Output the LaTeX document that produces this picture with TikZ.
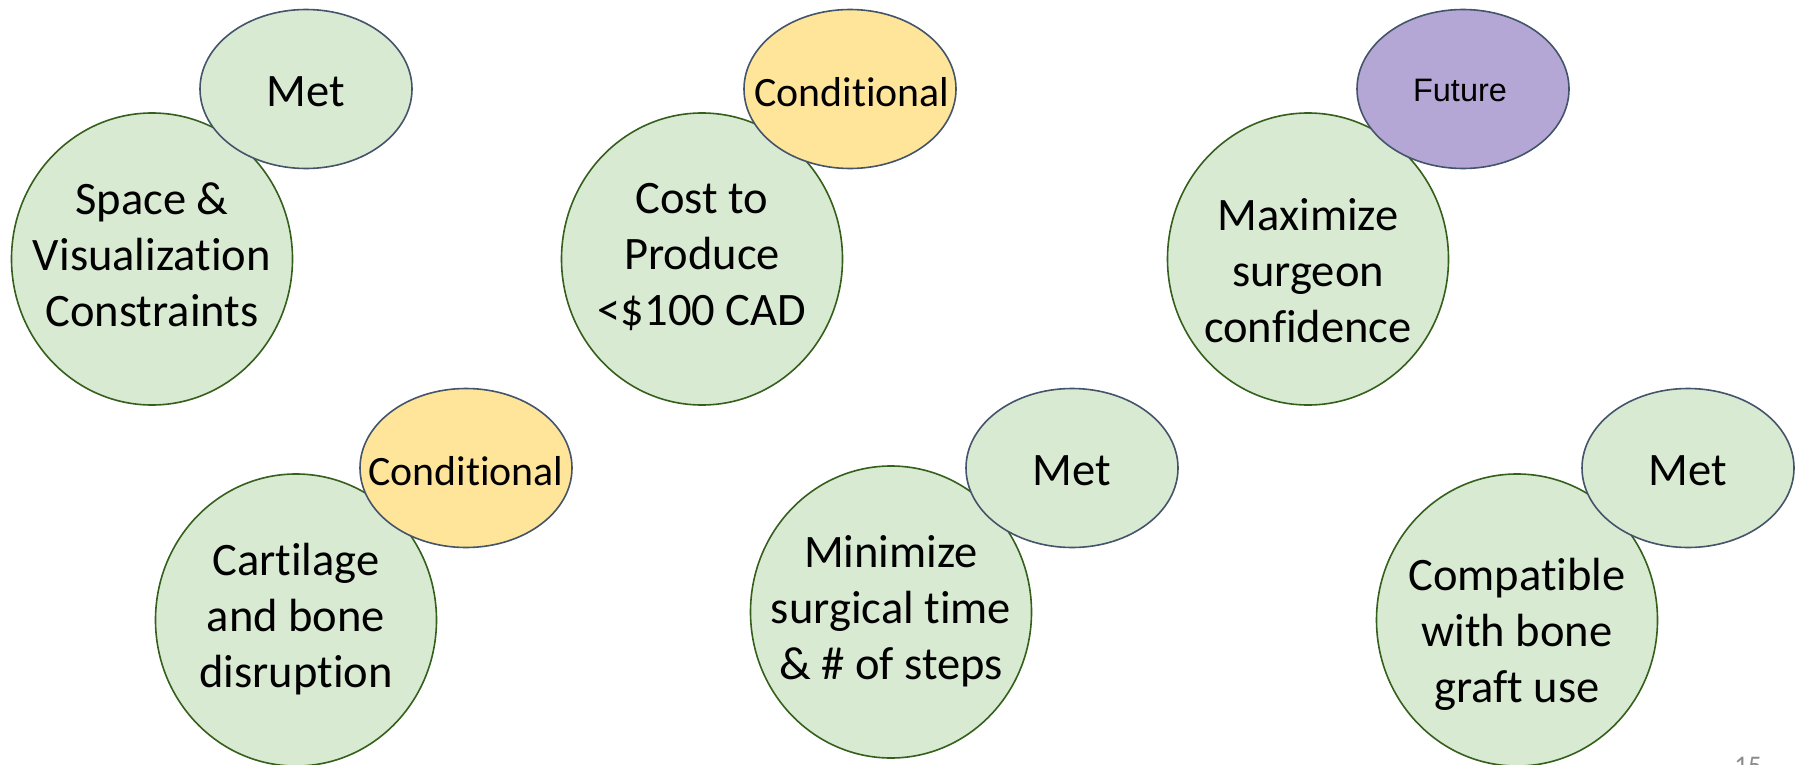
\documentclass[tikz,border=0pt]{standalone}
\usepackage{fontspec}
\setmainfont{Carlito}[RawFeature={-liga,-clig,-dlig}]
\newfontfamily\arialfont{Liberation Sans}
\usetikzlibrary{shapes.geometric}
\definecolor{goalfill}{HTML}{D9EAD3}
\definecolor{goaledge}{HTML}{34601C}
\definecolor{tagedge}{HTML}{44546A}
\definecolor{condfill}{HTML}{FFE599}
\definecolor{futfill}{HTML}{B4A7D6}
\definecolor{pagegray}{HTML}{8C8C8C}
\begin{document}
\begin{tikzpicture}[x=1bp,y=-1bp,
  goal/.style={ellipse, draw=goaledge, fill=goalfill, line width=1.6bp,
    minimum width=281bp, minimum height=292bp, inner sep=0pt},
  tag/.style={ellipse, draw=tagedge, line width=1.6bp,
    minimum width=212bp, minimum height=159bp, inner sep=0pt},
  met/.style={tag, fill=goalfill},
  cond/.style={tag, fill=condfill},
  fut/.style={tag, fill=futfill},
  goaltxt/.style={align=center, inner sep=0pt, font=\fontsize{46.7}{56.2}\selectfont},
  tagtxt/.style={inner sep=0pt, font=\fontsize{46.7}{56}\selectfont},
  condtxt/.style={inner sep=0pt, font=\fontsize{42}{50}\selectfont},
  futtxt/.style={inner sep=0pt, font=\arialfont\fontsize{32.6}{40}\selectfont},
  pagenum/.style={inner sep=0pt, anchor=base, text=pagegray, font=\fontsize{27}{32}\selectfont}
]
\path[use as bounding box, fill=white] (0,0) rectangle (1797,765);

% top row
\node[goal] (g1) at (152,259) {};
\node[goaltxt] (g1t) at (152,255) {Space \&\\Visualization\\Constraints};
\node[met] (s1) at (306,89) {};
\node[tagtxt] (s1t) at (306,92) {Met};

\node[goal] (g2) at (702,259) {};
\node[goaltxt] (g2t) at (702,257) {Cost to\\Produce\\<\$100 CAD};
\node[cond] (s2) at (850,89) {};
\node[condtxt] (s2t) at (852,92) {Conditional};

\node[goal] (g3) at (1308,259) {};
\node[goaltxt] (g3t) at (1308,271) {Maximize\\surgeon\\confidence};
\node[fut] (s3) at (1463,89) {};
\node[futtxt] (s3t) at (1460,90) {Future};

% bottom row
\node[goal] (g4) at (296,620) {};
\node[goaltxt] (g4t) at (296,619) {Cartilage\\and bone\\disruption};
\node[cond] (s4) at (466,468) {};
\node[condtxt] (s4t) at (466,471) {Conditional};

\node[goal] (g5) at (891,612) {};
\node[goaltxt] (g5t) at (891,611) {Minimize\\surgical time\\\& \# of steps};
\node[met] (s5) at (1072,468) {};
\node[tagtxt] (s5t) at (1072,471) {Met};

\node[goal] (g6) at (1517,620) {};
\node[goaltxt] (g6t) at (1517,634) {Compatible\\with bone\\graft use};
\node[met] (s6) at (1688,468) {};
\node[tagtxt] (s6t) at (1688,471) {Met};

% slide number, partly below the lower edge
\node[pagenum] (pg) at (1748,774) {15};
\end{tikzpicture}
\end{document}
